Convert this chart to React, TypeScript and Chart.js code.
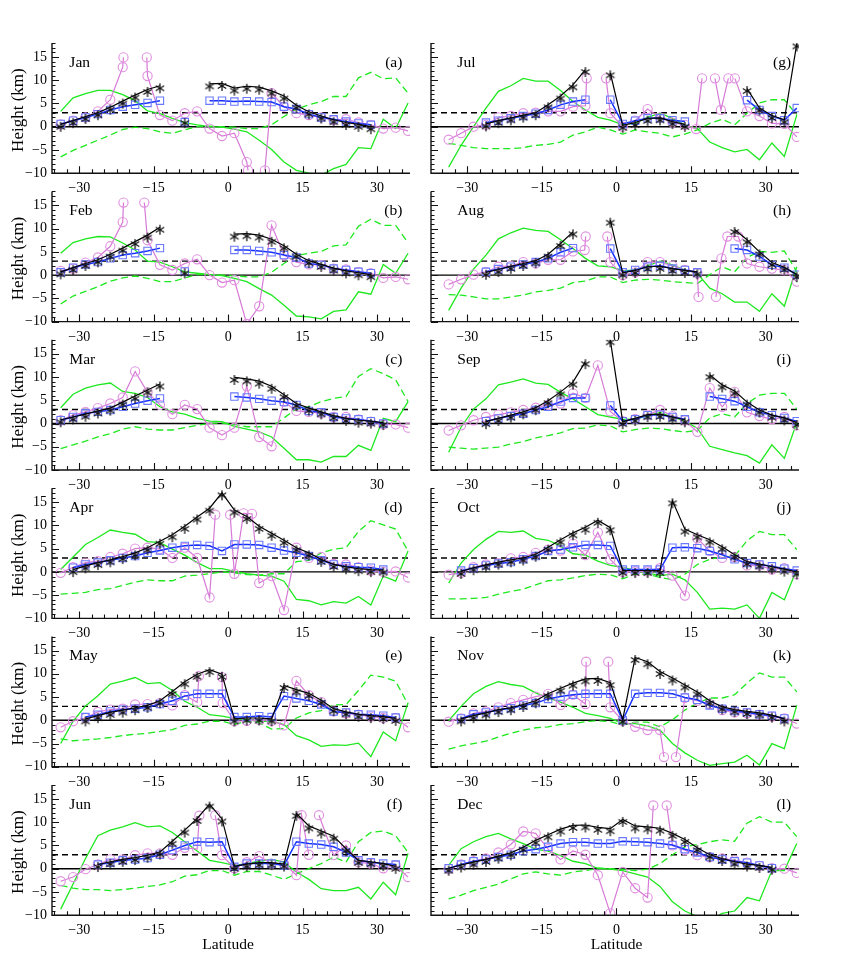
import React, { useEffect, useRef } from 'react';
import { Chart, registerables } from 'chart.js';
Chart.register(...registerables);

const _ = null;
type V = number | null;

const LAT = [-33.75,-31.25,-28.75,-26.25,-23.75,-21.25,-18.75,-16.25,-13.75,-11.25,-8.75,-6.25,-3.75,-1.25,1.25,3.75,6.25,8.75,11.25,13.75,16.25,18.75,21.25,23.75,26.25,28.75,31.25,33.75,36.25];
const X_TICKS = [-30, -15, 0, 15, 30];
const Y_TICKS = [-10, -5, 0, 5, 10, 15];
const Y_MIN = -10;
const Y_MAX = 18;
const X_RANGE_LEFT = [-35.5, 36.64];
const X_RANGE_RIGHT = [-37.3, 36.7];
const REF_SOLID = 0;
const REF_DASHED = 3;

// ---- Jan (a)
const JAN_BLACK: V[] = [0.5,1.3,2.2,3.0,4.2,5.5,6.8,8.0,8.8,_,1.3,_,9.2,9.3,8.3,8.7,8.5,7.7,6.6,4.6,3.2,2.3,1.5,0.9,0.5,0.0,_,_,_];
const JAN_BLUE: V[] = [0.6,1.3,2.0,2.7,3.6,4.3,4.7,5.1,5.6,_,1.0,_,5.6,5.6,5.4,5.5,5.4,5.3,4.3,3.8,2.7,2.0,1.6,1.1,0.7,0.4,_,_,_];
const JAN_GREEN: V[] = [3.3,6.2,7.1,7.8,7.8,6.9,5.6,3.4,2.8,1.8,0.9,0.4,0.0,-0.1,-0.5,-1.1,-2.9,-4.9,-7.6,-9.4,-10.0,-10.4,-9.0,-8.1,-4.5,-4.7,1.6,-0.4,5.1];
const JAN_DASH: V[] = [-6.5,-5.1,-4.0,-2.9,-1.8,-0.6,-0.1,-0.4,-1.1,-1.4,-0.7,0.0,0.1,0.0,-0.1,-0.4,-0.4,0.4,2.2,3.8,4.7,5.4,6.5,6.5,10.5,11.7,10.3,10.5,7.2];
const JAN_MAG: [number, V][] = [[-33.75,0.5],[-31.25,1.3],[-28.75,2.0],[-26.25,3.3],[-23.75,5.8],[-21.25,12.8],[-21.1,14.9],[-18.75,_],[-16.4,14.9],[-16.25,10.9],[-13.75,2.5],[-11.25,1.3],[-8.75,2.9],[-6.25,3.3],[-3.75,-0.4],[-1.25,-2.0],[1.25,-1.4],[3.75,-7.6],[4.0,-9.4],[5.5,_],[7.4,-9.4],[8.75,7.2],[11.25,4.3],[13.75,2.9],[16.25,2.5],[18.75,2.0],[21.25,1.4],[23.75,1.6],[26.25,0.9],[28.75,0.4],[31.25,-0.4],[33.75,-0.2],[36.25,-0.9]];

// ---- Feb (b)
const FEB_BLACK: V[] = [0.7,1.6,2.5,3.3,4.5,5.8,7.2,8.6,10.3,_,0.9,_,_,_,8.8,8.9,8.6,7.7,6.3,4.5,3.1,2.3,1.5,0.9,0.5,0.1,_,_,_];
const FEB_BLUE: V[] = [0.6,1.6,2.3,2.8,3.6,4.3,4.7,5.2,5.8,_,0.8,_,_,_,5.4,5.4,5.2,4.9,4.3,3.8,2.5,2.2,1.4,1.1,0.7,0.4,_,_,_];
const FEB_GREEN: V[] = [4.7,7.0,7.8,8.3,8.2,6.9,5.4,3.0,2.8,1.8,0.7,0.4,0.1,-0.1,-0.7,-1.4,-2.9,-4.3,-6.5,-8.8,-9.0,-9.4,-7.8,-7.5,-3.6,-4.1,2.3,0.4,4.7];
const FEB_DASH: V[] = [-6.2,-4.5,-3.5,-2.5,-1.3,-0.6,-0.2,-0.7,-1.4,-1.4,-0.6,0.1,0.1,0.0,-0.1,-0.4,-0.4,0.6,2.5,4.2,4.7,5.1,6.3,6.5,10.5,12.0,10.7,10.7,6.9];
const FEB_MAG: [number, V][] = [[-33.75,0.9],[-31.25,1.4],[-28.75,2.7],[-26.25,3.8],[-23.75,6.2],[-21.25,11.4],[-21.1,15.6],[-19.0,_],[-16.9,15.6],[-16.25,7.5],[-13.75,2.2],[-11.25,1.1],[-8.75,2.5],[-6.25,3.4],[-3.75,0.0],[-1.25,-1.6],[1.25,-1.1],[3.75,-10.5],[6.25,-6.7],[8.75,10.7],[11.25,4.3],[13.75,2.8],[16.25,2.3],[18.75,2.2],[21.25,1.4],[23.75,1.2],[26.25,0.7],[28.75,0.4],[31.25,-0.6],[33.75,-0.4],[36.25,-0.9]];

// ---- Mar (c)
const MAR_BLACK: V[] = [0.8,1.4,2.0,2.7,3.3,4.6,5.9,7.2,8.5,_,_,_,_,_,9.9,9.6,9.1,8.0,6.2,4.3,3.3,2.5,1.7,1.1,0.7,0.5,0.2,_,_];
const MAR_BLUE: V[] = [0.7,1.4,2.2,2.5,2.9,3.6,4.3,4.9,5.4,_,_,_,_,_,5.8,5.6,5.3,4.9,4.6,4.0,2.7,2.4,1.4,1.1,0.9,0.5,0.0,_,_];
const MAR_GREEN: V[] = [3.4,6.3,7.6,8.3,8.7,6.9,6.5,5.6,3.6,2.5,2.0,1.1,0.5,0.4,-0.6,-1.2,-1.8,-2.9,-5.3,-7.8,-7.8,-8.3,-7.1,-7.1,-4.7,-5.8,1.1,0.4,4.7];
const MAR_DASH: V[] = [-5.4,-4.6,-3.8,-2.9,-2.2,-1.2,-0.7,-1.2,-1.4,-1.4,-0.9,-0.4,0.0,0.1,-0.2,-0.7,-0.7,-0.7,1.2,3.1,3.6,4.7,5.4,5.8,10.1,11.8,10.7,9.4,4.7];
const MAR_MAG_GRID: V[] = [0.7,1.8,2.5,3.3,4.3,5.6,11.2,6.7,4.0,2.0,4.0,3.1,-0.9,-2.5,-0.9,8.0,-2.9,-4.9,4.7,2.7,2.5,2.2,1.4,1.4,0.9,0.4,-0.2,-0.2,-0.9];

// ---- Apr (d)
const APR_BLACK: V[] = [_,0.5,1.3,2.0,2.6,3.3,4.1,5.2,6.6,8.0,9.8,11.8,13.7,17.0,13.3,11.9,9.8,8.3,6.8,5.2,4.1,2.7,1.6,1.1,0.7,0.5,0.4,_,_];
const APR_BLUE: V[] = [_,0.9,1.6,2.0,2.5,3.0,3.4,4.1,4.6,5.2,5.6,5.8,5.6,4.5,5.9,5.9,5.8,5.2,4.6,4.1,3.4,2.5,1.6,1.2,1.0,0.9,0.5,_,_];
const APR_GREEN: V[] = [0.5,3.2,5.9,7.4,9.0,8.5,8.1,6.5,6.3,4.9,3.6,2.0,0.7,0.7,0.1,-0.4,-0.7,-0.9,-2.0,-5.9,-6.2,-7.1,-6.4,-6.7,-5.3,-7.1,-0.9,-2.0,4.5];
const APR_DASH: V[] = [-4.8,-4.6,-4.4,-3.8,-3.6,-2.9,-2.2,-1.7,-1.9,-1.9,-0.9,-0.7,-0.4,0.0,-0.2,-0.6,-0.7,-0.4,-0.4,2.2,2.5,4.1,4.9,5.2,8.7,11.0,10.1,9.2,4.5];
const APR_MAG: [number, V][] = [[-33.75,-0.2],[-31.25,1.0],[-28.75,2.0],[-26.25,2.3],[-23.75,3.2],[-21.25,3.9],[-18.75,5.0],[-16.25,5.2],[-13.75,4.9],[-11.25,3.0],[-8.75,5.2],[-6.25,3.0],[-3.75,-5.5],[-2.6,12.3],[-1.0,_],[0.4,12.3],[1.25,-0.4],[3.1,12.6],[4.8,12.5],[6.25,-2.4],[8.75,-0.9],[11.25,-8.2],[13.75,5.2],[16.25,3.0],[18.75,3.2],[21.25,1.7],[23.75,1.6],[26.25,1.0],[28.75,0.3],[31.25,0.0],[33.75,0.1],[36.25,-1.2]];

// ---- May (e)
const MAY_BLACK: V[] = [_,_,0.3,1.0,1.7,2.2,2.7,3.2,4.2,6.2,8.3,9.9,10.9,9.9,0.3,0.5,0.5,0.3,7.5,6.6,5.8,4.3,2.5,1.8,1.3,1.0,0.8,0.4,_];
const MAY_BLUE: V[] = [_,_,0.7,1.2,1.9,2.3,2.5,2.8,3.5,4.2,5.2,5.7,5.7,5.7,0.7,0.7,0.9,0.7,5.2,4.7,4.2,3.4,1.9,1.7,1.3,1.2,1.0,0.6,_];
const MAY_GREEN: V[] = [-5.0,-0.2,3.1,5.3,7.8,8.4,9.2,7.9,8.1,6.4,4.1,2.8,1.2,0.9,0.4,0.1,-0.2,-0.2,-0.9,-3.3,-4.2,-5.6,-5.3,-5.4,-4.9,-7.8,-2.5,-4.4,3.8];
const MAY_DASH: V[] = [-4.0,-4.4,-4.2,-4.0,-3.7,-3.3,-3.0,-2.8,-2.4,-2.0,-1.1,-0.8,-0.2,-0.2,-0.9,-0.2,-0.6,-1.9,-1.8,0.5,1.6,2.1,3.3,3.4,6.4,9.7,9.3,8.4,3.4];
const MAY_MAG: [number, V][] = [[-33.75,-1.5],[-31.25,-0.2],[-28.75,0.5],[-26.25,1.8],[-23.75,2.3],[-21.25,2.5],[-18.75,3.4],[-16.25,3.5],[-13.75,3.7],[-11.25,3.2],[-8.75,5.4],[-6.25,3.9],[-5.9,9.5],[-3.0,_],[-1.25,9.3],[-1.1,3.7],[1.25,-0.2],[3.75,-0.1],[6.25,0.1],[8.75,-0.1],[11.25,-1.1],[13.75,8.5],[16.25,5.4],[18.75,3.9],[21.25,1.9],[23.75,1.5],[26.25,1.2],[28.75,0.8],[31.25,0.5],[33.75,0.5],[36.25,-1.5]];

// ---- Jun (f)
const JUN_BLACK: V[] = [_,_,_,0.9,1.5,2.0,2.4,2.9,3.6,5.9,8.3,10.8,13.9,10.7,0.5,1.0,1.3,1.3,1.0,11.9,9.2,8.1,7.0,4.3,1.8,1.5,1.1,0.5,_];
const JUN_BLUE: V[] = [_,_,_,0.9,1.3,1.8,2.0,2.3,3.0,4.0,5.0,5.8,5.7,5.8,0.4,1.1,1.1,1.1,0.7,5.8,5.4,5.2,4.7,3.5,1.8,1.4,1.1,0.9,_];
const JUN_GREEN: V[] = [-8.7,-3.3,2.2,7.1,8.3,9.0,9.9,9.0,9.2,7.8,5.8,3.8,1.8,1.3,0.7,1.1,1.6,2.0,1.4,-0.7,-2.3,-4.3,-4.7,-4.7,-4.0,-6.5,-2.9,-5.6,3.3];
const JUN_DASH: V[] = [-3.6,-4.2,-4.5,-4.5,-4.7,-4.5,-4.2,-3.8,-3.5,-2.8,-1.6,-1.3,-0.4,-0.4,-1.4,-0.6,-0.6,-1.4,-2.3,-1.1,0.0,1.1,2.5,1.4,5.8,7.8,8.1,7.1,3.5];
const JUN_MAG: [number, V][] = [[-33.75,-2.7],[-31.25,-1.8],[-28.75,-0.1],[-26.25,0.9],[-23.75,2.0],[-21.25,2.0],[-18.75,2.9],[-16.25,3.3],[-13.75,3.3],[-11.25,3.0],[-8.75,4.5],[-6.25,4.2],[-5.8,11.4],[-4.5,_],[-2.6,11.5],[-1.25,2.9],[1.25,0.1],[3.75,1.4],[6.25,2.7],[8.75,1.1],[11.25,1.1],[13.75,-1.4],[14.8,11.5],[16.25,3.0],[17.5,_],[18.3,11.5],[21.25,2.9],[23.75,5.0],[26.25,1.4],[28.75,1.1],[31.25,0.1],[33.75,0.7],[36.25,-1.8]];

// ---- Jul (g)
const JUL_BLACK: V[] = [_,_,_,0.6,1.3,1.9,2.5,3.0,4.7,6.6,9.0,12.3,_,11.6,0.3,0.9,1.8,1.9,1.1,0.5,_,_,_,_,8.2,4.0,2.4,1.5,17.8];
const JUL_BLUE: V[] = [_,_,_,0.9,1.3,1.8,2.3,2.8,3.6,4.7,5.4,5.8,_,5.8,0.6,1.3,1.8,1.8,1.4,1.1,_,_,_,_,5.7,3.6,2.3,1.4,4.0];
const JUL_GREEN: V[] = [-8.7,-4.0,0.0,4.0,7.6,8.8,10.4,9.8,9.8,7.8,5.4,3.6,2.0,1.4,0.4,0.7,2.0,2.9,1.8,0.4,-0.4,-3.3,-4.5,-5.4,-4.9,-7.1,-3.5,-6.4,2.5];
const JUL_DASH: V[] = [-3.6,-4.0,-4.5,-4.7,-4.7,-4.7,-4.5,-4.0,-3.8,-3.3,-1.8,-1.1,-0.1,-0.7,-1.6,-0.7,-1.1,-1.4,-2.2,-1.6,-0.7,0.7,1.6,0.4,2.9,5.1,5.8,5.8,2.5];
const JUL_MAG: [number, V][] = [[-33.75,-2.8],[-31.25,-1.4],[-28.75,0.0],[-26.25,0.4],[-23.75,2.0],[-21.25,2.3],[-18.75,2.9],[-16.25,3.0],[-13.75,3.3],[-11.25,3.3],[-8.75,4.3],[-6.25,4.5],[-6.0,10.4],[-4.0,_],[-2.1,10.4],[-1.25,2.9],[1.25,0.0],[3.75,1.3],[6.25,3.8],[8.75,2.0],[11.25,0.9],[13.75,0.4],[16.0,-0.5],[17.2,10.4],[18.5,_],[19.8,10.4],[21.0,3.6],[22.5,10.4],[23.2,_],[23.8,10.4],[26.25,3.3],[28.75,2.3],[31.25,0.7],[33.75,0.6],[36.25,-2.2]];

// ---- Aug (h)
const AUG_BLACK: V[] = [_,_,_,0.6,1.2,1.9,2.5,3.1,4.5,6.8,9.3,_,_,11.8,0.5,1.0,1.8,1.9,1.4,1.0,0.7,_,_,9.8,7.6,5.0,2.7,1.7,0.1];
const AUG_BLUE: V[] = [_,_,_,0.7,1.3,1.8,2.3,2.8,3.6,4.9,5.8,_,_,5.7,0.6,1.1,1.8,2.0,1.4,1.1,0.6,_,_,5.7,5.4,4.0,2.2,1.6,0.1];
const AUG_GREEN: V[] = [-7.6,-2.8,1.3,4.3,7.8,9.1,10.1,9.6,9.4,7.6,5.7,3.6,2.0,1.8,0.9,1.1,2.0,3.0,2.2,1.1,0.4,-2.8,-4.0,-5.8,-5.8,-7.8,-4.0,-6.7,1.8];
const AUG_DASH: V[] = [-4.2,-4.3,-4.7,-5.1,-5.1,-4.7,-4.3,-3.6,-3.3,-2.8,-1.6,-1.3,-0.4,-0.4,-1.6,-1.1,-0.9,-1.1,-1.4,-1.6,-1.8,0.1,1.8,0.7,3.8,5.1,4.9,5.2,0.7];
const AUG_MAG: [number, V][] = [[-33.75,-2.0],[-31.25,-0.9],[-28.75,0.1],[-26.25,0.7],[-23.75,1.8],[-21.25,2.0],[-18.75,2.8],[-16.25,2.5],[-13.75,3.3],[-11.25,3.3],[-8.75,5.1],[-6.4,5.4],[-6.2,8.3],[-4.0,_],[-1.85,8.3],[-1.25,2.8],[1.25,0.0],[3.75,0.6],[6.25,2.8],[8.75,2.8],[11.25,2.0],[13.75,1.1],[16.25,0.4],[16.5,-4.7],[18.0,_],[20.0,-4.7],[21.1,3.6],[22.3,8.3],[24.5,8.3],[26.25,2.5],[28.75,1.8],[31.25,1.4],[33.75,1.1],[36.25,-1.4]];

// ---- Sep (i)
const SEP_BLACK: V[] = [_,_,_,0.4,1.1,1.8,2.5,3.4,4.9,6.8,8.9,13.3,_,18.0,0.4,1.1,1.9,2.0,1.4,0.8,_,10.5,8.3,7.0,4.6,2.9,1.8,1.2,0.2];
const SEP_BLUE: V[] = [_,_,_,0.5,1.1,1.6,2.1,2.9,3.6,4.7,5.5,5.5,_,3.9,0.5,0.9,1.8,1.9,1.4,0.9,_,5.8,5.3,4.8,3.6,2.4,1.8,1.2,0.5];
const SEP_GREEN: V[] = [-6.2,-0.8,3.1,5.3,8.3,8.9,9.6,8.7,8.4,6.7,5.3,3.6,1.9,1.4,0.9,1.0,1.6,2.4,1.4,0.5,-1.0,-4.9,-5.6,-6.3,-6.9,-8.5,-4.6,-7.5,0.2];
const SEP_DASH: V[] = [-5.1,-5.3,-5.5,-5.3,-5.1,-4.4,-3.9,-3.1,-2.6,-2.0,-1.1,-1.0,-0.3,-0.5,-1.8,-1.3,-1.0,-1.1,-1.5,-1.8,-1.5,1.2,2.1,1.4,4.3,6.1,6.5,6.5,3.1];
const SEP_MAG_GRID: V[] = [-1.5,-0.4,0.7,1.4,1.9,2.4,2.9,3.4,4.0,4.3,6.5,5.5,12.5,2.6,0.5,1.0,1.9,2.9,1.6,0.7,-1.8,7.6,3.6,6.8,2.4,1.6,0.9,1.4,-0.4];

// ---- Oct (j)
const OCT_BLACK: V[] = [_,0.1,0.9,1.5,2.1,2.6,3.0,3.8,5.3,6.9,8.4,9.6,11.1,9.5,0.3,0.3,0.3,0.3,15.3,9.2,8.0,6.9,5.4,3.7,2.2,1.7,1.1,0.6,0.0];
const OCT_BLUE: V[] = [_,0.3,0.8,1.4,1.8,2.1,2.7,3.4,4.5,4.8,5.3,5.8,5.8,5.6,0.5,0.5,0.5,0.5,5.2,5.3,5.1,4.5,3.7,2.7,1.9,1.6,1.2,0.7,0.3];
const OCT_GREEN: V[] = [-2.4,1.9,4.8,7.0,8.7,8.5,8.8,7.2,6.8,5.6,3.9,3.6,2.3,1.4,1.0,0.3,-0.2,-0.8,-0.5,-1.7,-4.4,-8.0,-7.8,-8.0,-7.1,-10.0,-4.4,-6.0,0.5];
const OCT_DASH: V[] = [-5.8,-5.8,-5.7,-5.5,-4.8,-4.2,-3.7,-2.8,-1.9,-1.7,-1.3,-0.8,-0.5,-0.6,-1.5,-0.5,-0.5,-1.2,-1.7,-0.5,1.6,2.7,3.2,3.4,6.7,8.7,8.0,8.0,4.8];
const OCT_MAG_GRID: V[] = [-0.6,-0.2,1.0,1.6,1.9,2.9,3.2,4.1,4.8,4.6,6.1,3.6,8.5,2.7,0.0,0.1,0.1,0.8,-0.8,-5.1,7.2,4.5,3.0,3.2,1.4,1.4,0.5,0.8,-0.5];

// ---- Nov (k)
const NOV_BLACK: V[] = [_,0.3,1.0,1.6,2.3,2.7,3.4,4.2,5.7,6.9,8.0,8.9,9.0,8.1,0.2,13.5,12.6,10.5,9.1,7.6,6.1,4.2,2.9,2.3,1.9,1.6,1.1,0.3,_];
const NOV_BLUE: V[] = [_,0.4,1.3,1.7,2.2,2.6,3.2,3.7,4.6,5.1,5.5,5.7,5.7,5.7,0.0,5.7,5.9,5.9,5.7,4.9,4.4,3.2,2.5,2.0,1.7,1.3,1.0,0.4,_];
const NOV_GREEN: V[] = [-0.1,3.0,5.7,7.3,8.3,7.7,7.3,5.9,4.8,3.9,2.8,1.5,1.0,0.4,-0.7,-0.7,-1.2,-2.1,-5.0,-7.0,-8.6,-9.7,-9.3,-9.0,-7.5,-9.6,-5.0,-6.1,3.2];
const NOV_DASH: V[] = [-6.2,-5.5,-5.0,-4.5,-3.6,-2.8,-2.1,-1.6,-1.4,-0.9,-0.7,-0.3,-0.1,-0.3,-1.0,-0.4,-0.4,-1.4,0.1,2.2,3.7,4.8,4.8,5.5,8.0,10.2,9.3,9.3,6.1];
const NOV_MAG: [number, V][] = [[-33.75,-0.3],[-31.25,0.4],[-28.75,1.5],[-26.25,1.9],[-23.75,2.8],[-21.25,3.7],[-18.75,4.4],[-16.25,5.1],[-13.75,5.7],[-11.25,3.3],[-8.75,5.5],[-6.25,3.5],[-6.1,12.6],[-4.0,_],[-1.65,12.6],[-1.25,2.8],[1.25,-0.1],[3.75,-1.4],[6.25,-2.1],[8.75,-2.1],[9.55,-7.9],[10.8,_],[11.96,-7.9],[13.75,4.8],[16.25,4.2],[18.75,3.5],[21.25,2.2],[23.75,1.7],[26.25,1.5],[28.75,1.2],[31.25,0.8],[33.75,0.4],[36.25,-0.7]];

// ---- Dec (l)
const DEC_BLACK: V[] = [0.1,0.8,1.4,2.0,2.7,3.4,4.6,6.1,7.3,8.5,9.3,9.4,8.9,8.6,10.6,9.2,9.0,8.7,7.6,6.3,4.5,3.0,2.2,1.5,1.0,0.7,0.3,_,_];
const DEC_BLUE: V[] = [0.1,0.9,1.6,2.0,2.5,3.0,3.8,4.2,4.7,5.4,5.7,5.7,5.4,5.4,5.9,5.8,5.7,5.4,5.1,4.2,3.5,2.5,2.0,1.6,1.3,0.7,0.1,_,_];
const DEC_GREEN: V[] = [0.7,4.3,5.8,6.9,7.6,6.4,5.4,4.2,3.8,2.8,1.6,1.1,0.1,-0.1,-0.4,-1.1,-1.8,-3.8,-7.1,-9.1,-10.3,-11.2,-9.6,-9.1,-6.2,-6.9,-0.4,-0.4,5.4];
const DEC_DASH: V[] = [-6.5,-5.7,-4.7,-4.0,-3.3,-2.2,-1.1,-0.7,-1.1,-1.4,-0.7,-0.4,0.1,0.0,-0.1,-0.4,-0.1,1.1,3.0,4.7,5.2,5.8,6.2,5.9,9.8,11.2,10.0,10.0,6.9];
const DEC_MAG: [number, V][] = [[-33.75,-0.1],[-31.25,0.9],[-28.75,1.6],[-26.25,2.2],[-23.75,3.5],[-21.25,5.2],[-18.75,8.0],[-16.25,7.6],[-13.75,4.2],[-11.25,2.0],[-8.75,3.8],[-6.25,3.0],[-3.75,-1.4],[-1.25,-9.6],[1.25,-0.7],[3.75,-4.2],[6.25,-6.2],[7.4,13.6],[8.7,_],[10.1,13.6],[11.25,5.0],[13.75,4.0],[16.25,2.9],[18.75,2.5],[21.25,2.2],[23.75,1.8],[26.25,1.3],[28.75,0.6],[31.25,0.1],[33.75,0.0],[36.25,-0.9]];

const gridPairs = (arr: V[]): [number, V][] => LAT.map((x, i) => [x, arr[i]] as [number, V]);

type PanelDef = { month: string; letter: string; black: V[]; blue: V[]; mag: [number, V][]; green: V[]; dash: V[] };

const PANELS: PanelDef[] = [
  { month: 'Jan', letter: '(a)', black: JAN_BLACK, blue: JAN_BLUE, mag: JAN_MAG, green: JAN_GREEN, dash: JAN_DASH },
  { month: 'Feb', letter: '(b)', black: FEB_BLACK, blue: FEB_BLUE, mag: FEB_MAG, green: FEB_GREEN, dash: FEB_DASH },
  { month: 'Mar', letter: '(c)', black: MAR_BLACK, blue: MAR_BLUE, mag: gridPairs(MAR_MAG_GRID), green: MAR_GREEN, dash: MAR_DASH },
  { month: 'Apr', letter: '(d)', black: APR_BLACK, blue: APR_BLUE, mag: APR_MAG, green: APR_GREEN, dash: APR_DASH },
  { month: 'May', letter: '(e)', black: MAY_BLACK, blue: MAY_BLUE, mag: MAY_MAG, green: MAY_GREEN, dash: MAY_DASH },
  { month: 'Jun', letter: '(f)', black: JUN_BLACK, blue: JUN_BLUE, mag: JUN_MAG, green: JUN_GREEN, dash: JUN_DASH },
  { month: 'Jul', letter: '(g)', black: JUL_BLACK, blue: JUL_BLUE, mag: JUL_MAG, green: JUL_GREEN, dash: JUL_DASH },
  { month: 'Aug', letter: '(h)', black: AUG_BLACK, blue: AUG_BLUE, mag: AUG_MAG, green: AUG_GREEN, dash: AUG_DASH },
  { month: 'Sep', letter: '(i)', black: SEP_BLACK, blue: SEP_BLUE, mag: gridPairs(SEP_MAG_GRID), green: SEP_GREEN, dash: SEP_DASH },
  { month: 'Oct', letter: '(j)', black: OCT_BLACK, blue: OCT_BLUE, mag: gridPairs(OCT_MAG_GRID), green: OCT_GREEN, dash: OCT_DASH },
  { month: 'Nov', letter: '(k)', black: NOV_BLACK, blue: NOV_BLUE, mag: NOV_MAG, green: NOV_GREEN, dash: NOV_DASH },
  { month: 'Dec', letter: '(l)', black: DEC_BLACK, blue: DEC_BLUE, mag: DEC_MAG, green: DEC_GREEN, dash: DEC_DASH },
];

// ---- layout
const FONT = "'Liberation Serif', 'Times New Roman', serif";
const U = 4.65;             // px per km
const Y0 = 126.7;           // pixel of 0 km in first row
const ROW_STEP = 148.4;
const PLOT_H = (Y_MAX - Y_MIN) * U;

const C_BLACK = '#000000';
const C_BLUE_LINE = '#1530ff';
const C_BLUE_MARK = '#6a78ff';
const C_MAG_LINE = '#d67ad6';
const C_MAG_MARK = '#e08fe0';
const C_GREEN = '#1ee81e';

function makeAsterisk(): HTMLCanvasElement {
  const c = document.createElement('canvas');
  c.width = 14; c.height = 19;
  const g = c.getContext('2d')!;
  g.strokeStyle = '#111';
  g.lineWidth = 1.25;
  const cx = 7, cy = 12, r = 4.9;
  for (const a of [90, 30, 150]) {
    const rad = (a * Math.PI) / 180;
    g.beginPath();
    g.moveTo(cx - r * Math.cos(rad), cy - r * Math.sin(rad));
    g.lineTo(cx + r * Math.cos(rad), cy + r * Math.sin(rad));
    g.stroke();
  }
  return c;
}

const fmt = (v: number) => (v < 0 ? '\u2212' + Math.abs(v) : String(v));

function Panel({ def, col, row }: { def: PanelDef; col: number; row: number }) {
  const ref = useRef<HTMLCanvasElement>(null);
  const left = col === 0 ? 0 : 421;
  const yw = col === 0 ? 52 : 10;
  const plotRight = col === 0 ? 410 : 799;
  const padRight = 8;
  const width = plotRight - left + padRight;
  const plotTop = Y0 + row * ROW_STEP - Y_MAX * U;
  const top = Math.round(plotTop - 16);
  const padTop = plotTop - top;
  const xh0 = row === 5 ? 46 : 24;
  const height = Math.ceil(padTop + PLOT_H + xh0);
  const xh = height - padTop - PLOT_H;
  const range = col === 0 ? X_RANGE_LEFT : X_RANGE_RIGHT;

  useEffect(() => {
    const asterisk = makeAsterisk();
    const toPts = (arr: V[]) => LAT.map((x, i) => ({ x, y: arr[i] }));
    const deco = {
      id: 'deco',
      beforeDatasetsDraw(chart: any) {
        const { ctx, chartArea: a, scales } = chart;
        const y = scales.y;
        ctx.save();
        ctx.strokeStyle = '#000';
        ctx.lineWidth = 1.4;
        let py = y.getPixelForValue(REF_SOLID);
        ctx.beginPath(); ctx.moveTo(a.left, py); ctx.lineTo(a.right, py); ctx.stroke();
        ctx.setLineDash([6, 4]);
        py = y.getPixelForValue(REF_DASHED);
        ctx.beginPath(); ctx.moveTo(a.left, py); ctx.lineTo(a.right, py); ctx.stroke();
        ctx.restore();
      },
      afterDraw(chart: any) {
        const { ctx, chartArea: a, scales } = chart;
        const x = scales.x, y = scales.y;
        ctx.save();
        ctx.strokeStyle = '#111';
        ctx.lineWidth = 1.4;
        ctx.beginPath();
        ctx.moveTo(a.left, a.top); ctx.lineTo(a.left, a.bottom); ctx.lineTo(a.right, a.bottom);
        ctx.stroke();
        ctx.lineWidth = 1.1;
        ctx.beginPath();
        for (let v = Y_MIN; v <= Y_MAX; v += 1) {
          const len = v % 5 === 0 ? 7 : 3.5;
          const p = Math.round(y.getPixelForValue(v)) + 0.5;
          ctx.moveTo(a.left, p); ctx.lineTo(a.left + len, p);
        }
        for (let v = Math.ceil(range[0] / 2.5) * 2.5; v <= range[1]; v += 2.5) {
          const len = v % 15 === 0 ? 7 : 4;
          const p = Math.round(x.getPixelForValue(v)) + 0.5;
          ctx.moveTo(p, a.bottom); ctx.lineTo(p, a.bottom - len);
        }
        ctx.stroke();
        ctx.fillStyle = '#000';
        ctx.font = `15.5px ${FONT}`;
        ctx.textBaseline = 'alphabetic';
        ctx.textAlign = 'left';
        ctx.fillText(def.month, x.getPixelForValue(-32), y.getPixelForValue(12.9));
        ctx.textAlign = 'right';
        ctx.fillText(def.letter, x.getPixelForValue(35.1), y.getPixelForValue(12.9));
        if (col === 0) {
          ctx.save();
          ctx.font = `17px ${FONT}`;
          ctx.translate(18.3, (a.top + a.bottom) / 2 + 2);
          ctx.rotate(-Math.PI / 2);
          ctx.textAlign = 'center';
          ctx.textBaseline = 'middle';
          ctx.fillText('Height (km)', 0, 0);
          ctx.restore();
        }
        if (row === 5) {
          ctx.font = `15.5px ${FONT}`;
          ctx.textAlign = 'center';
          ctx.textBaseline = 'middle';
          ctx.fillText('Latitude', x.getPixelForValue(0), a.bottom + 30);
        }
        ctx.restore();
      },
    };

    const chart = new Chart(ref.current!, {
      type: 'line',
      data: {
        datasets: [
          {
            data: toPts(def.black) as any,
            borderColor: C_BLACK, borderWidth: 1.2,
            pointStyle: asterisk as any, pointRadius: 5,
            tension: 0, spanGaps: false,
          },
          {
            data: toPts(def.blue) as any,
            borderColor: C_BLUE_LINE, borderWidth: 1.5,
            pointStyle: 'rect', pointRadius: 5.2, pointBorderColor: C_BLUE_MARK,
            pointBackgroundColor: 'rgba(0,0,0,0)', pointBorderWidth: 1.1,
            tension: 0, spanGaps: false,
          },
          {
            data: def.mag.map(([x, yv]) => ({ x, y: yv })) as any,
            borderColor: C_MAG_LINE, borderWidth: 1.2,
            pointStyle: 'circle', pointRadius: 4.6, pointBorderColor: C_MAG_MARK,
            pointBackgroundColor: 'rgba(0,0,0,0)', pointBorderWidth: 1.1,
            tension: 0, spanGaps: false,
          },
          {
            data: toPts(def.dash) as any,
            borderColor: C_GREEN, borderWidth: 1.3, borderDash: [7, 4],
            pointRadius: 0, tension: 0,
          },
          {
            data: toPts(def.green) as any,
            borderColor: C_GREEN, borderWidth: 1.3,
            pointRadius: 0, tension: 0,
          },
        ],
      },
      options: {
        animation: false,
        responsive: false,
        events: [],
        parsing: false as any,
        normalized: true,
        layout: { padding: { top: padTop, right: padRight, left: 0, bottom: 0 } },
        plugins: { legend: { display: false }, tooltip: { enabled: false } },
        scales: {
          x: {
            type: 'linear',
            min: range[0], max: range[1],
            grid: { display: false, drawTicks: false },
            border: { display: false },
            afterBuildTicks: (s: any) => { s.ticks = X_TICKS.map((value) => ({ value })); },
            afterFit: (s: any) => { s.height = xh; },
            ticks: {
              padding: 7, color: '#000', maxRotation: 0, autoSkip: false,
              font: { family: FONT, size: 14 },
              callback: (v: any) => fmt(Number(v)),
            },
          },
          y: {
            type: 'linear',
            min: Y_MIN, max: Y_MAX,
            grid: { display: false, drawTicks: false },
            border: { display: false },
            afterBuildTicks: (s: any) => { s.ticks = Y_TICKS.map((value) => ({ value })); },
            afterFit: (s: any) => { s.width = yw; },
            ticks: {
              display: col === 0,
              padding: 5, color: '#000',
              font: { family: FONT, size: 14 },
              callback: (v: any) => fmt(Number(v)),
            },
          },
        },
      },
      plugins: [deco],
    } as any);
    return () => chart.destroy();
  }, []);

  return (
    <canvas
      ref={ref}
      width={width}
      height={height}
      style={{ position: 'absolute', left, top, width, height }}
    />
  );
}

export default function App() {
  return (
    <div style={{ position: 'absolute', left: 0, top: 0, width: 844, height: 964, background: '#fff' }}>
      {PANELS.map((p, i) => (
        <Panel key={p.month} def={p} col={i < 6 ? 0 : 1} row={i % 6} />
      ))}
    </div>
  );
}
